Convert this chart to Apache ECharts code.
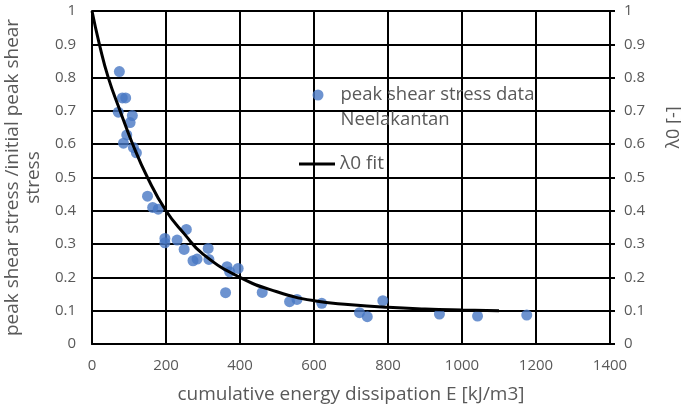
<!DOCTYPE html>
<html>
<head>
<meta charset="utf-8">
<script src="https://cdn.jsdelivr.net/npm/echarts@6/dist/echarts.min.js"></script>
<style>
  html, body { margin: 0; padding: 0; background: #fff; }
  #chart1 { width: 681px; height: 406px; }
</style>
</head>
<body>
<div id="chart1"></div>
<script>
// measured points (E [kJ/m3], normalized peak shear stress)
const dataE = [74, 82, 91, 71, 109, 103, 94, 85, 112, 120, 150, 164, 179, 197, 197, 230, 255, 249, 273, 284,
               314, 316, 365, 372, 395, 361, 460, 534, 554, 621, 723, 744, 786, 939, 1042, 1175];
const dataStress = [0.818, 0.739, 0.739, 0.696, 0.686, 0.665, 0.628, 0.603, 0.59, 0.574, 0.444, 0.41, 0.405, 0.317, 0.304, 0.312, 0.344, 0.284, 0.25, 0.255,
                    0.287, 0.254, 0.232, 0.217, 0.227, 0.154, 0.155, 0.127, 0.134, 0.122, 0.094, 0.082, 0.13, 0.09, 0.084, 0.087];

// fit curve
const fitE = [0, 20, 44, 76, 110, 150, 200, 250, 300, 400, 500, 600, 700, 800, 900, 1000, 1100];
const fitLambda = [1, 0.9, 0.8, 0.7, 0.6, 0.5, 0.4, 0.33, 0.27, 0.2, 0.157, 0.13, 0.118, 0.11, 0.105, 0.102, 0.1];

const xTicks = { min: 0, max: 1400, interval: 200 };
const yTicks = { min: 0, max: 1, interval: 0.1 };

const grey = '#595959';
const font = 'Open Sans';

const getOption = () => {
    const scatterData = dataE.map((e, i) => [e, dataStress[i]]);
    const fitData = fitE.map((e, i) => [e, fitLambda[i]]);
    return {
        animation: false,
        textStyle: { fontFamily: font },
        grid: { left: 92, right: 71, top: 11, bottom: 62, containLabel: false, outerBoundsMode: 'none' },
        legend: [
            {
                data: ['peak shear stress data Neelakantan'],
                left: 312.5,
                top: 57.5,
                padding: 0,
                icon: 'circle',
                itemWidth: 11,
                itemHeight: 11,
                // empty first line keeps the dot level with the first text line
                formatter: () => '\npeak shear stress data\nNeelakantan',
                textStyle: {
                    color: grey, fontFamily: font, fontSize: 18.5,
                    lineHeight: 25, padding: [0, 0, 0, 12]
                }
            },
            {
                data: ['λ0 fit'],
                left: 299,
                top: 153,
                padding: 0,
                icon: 'rect',
                itemWidth: 36,
                itemHeight: 3,
                itemStyle: { color: '#000' },
                textStyle: { color: grey, fontFamily: font, fontSize: 19, lineHeight: 22 }
            }
        ],
        xAxis: {
            type: 'value',
            min: xTicks.min,
            max: xTicks.max,
            interval: xTicks.interval,
            name: 'cumulative energy dissipation E [kJ/m3]',
            nameLocation: 'middle',
            nameGap: 41,
            nameTextStyle: { color: grey, fontFamily: font, fontSize: 19 },
            axisLine: { lineStyle: { color: '#000', width: 2 } },
            axisTick: { show: false },
            axisLabel: { color: grey, fontFamily: font, fontSize: 15, margin: 14, formatter: (v) => String(v) },
            splitLine: { show: true, lineStyle: { color: '#000', width: 2, type: 'solid' } }
        },
        yAxis: [
            {
                type: 'value',
                min: yTicks.min,
                max: yTicks.max,
                interval: yTicks.interval,
                name: 'peak shear stress /initial peak shear\nstress',
                nameLocation: 'middle',
                nameGap: 29,
                nameRotate: 90,
                nameTextStyle: { color: grey, fontFamily: font, fontSize: 19, lineHeight: 21 },
                axisLine: { show: true, lineStyle: { color: '#000', width: 2 } },
                axisTick: { show: false },
                axisLabel: { color: grey, fontFamily: font, fontSize: 15, margin: 16 },
                splitLine: { show: true, lineStyle: { color: '#000', width: 2, type: 'solid' } }
            },
            {
                type: 'value',
                position: 'right',
                min: yTicks.min,
                max: yTicks.max,
                interval: yTicks.interval,
                name: 'λ0 [-]',
                nameLocation: 'middle',
                nameGap: 55,
                nameRotate: 90,
                nameTextStyle: { color: grey, fontFamily: font, fontSize: 18, padding: [0, 0, 0, 100] },
                axisLine: { show: true, lineStyle: { color: '#000', width: 2 } },
                axisTick: { show: true, inside: false, length: 5, lineStyle: { color: '#000', width: 2 } },
                axisLabel: { color: grey, fontFamily: font, fontSize: 15, margin: 14 },
                splitLine: { show: false }
            }
        ],
        series: [
            {
                name: 'peak shear stress data Neelakantan',
                type: 'scatter',
                symbolSize: 11,
                itemStyle: { color: '#4878C4' },
                data: scatterData,
                z: 3
            },
            {
                name: 'λ0 fit',
                type: 'line',
                yAxisIndex: 1,
                smooth: true,
                symbol: 'none',
                lineStyle: { color: '#000', width: 3 },
                itemStyle: { color: '#000' },
                data: fitData,
                z: 4
            }
        ]
    };
};

const initCharts = () => {
    const chart1 = echarts.init(document.getElementById('chart1'));
    chart1.setOption(getOption());
};

window.addEventListener('load', () => {
    initCharts();
});
</script>
</body>
</html>
